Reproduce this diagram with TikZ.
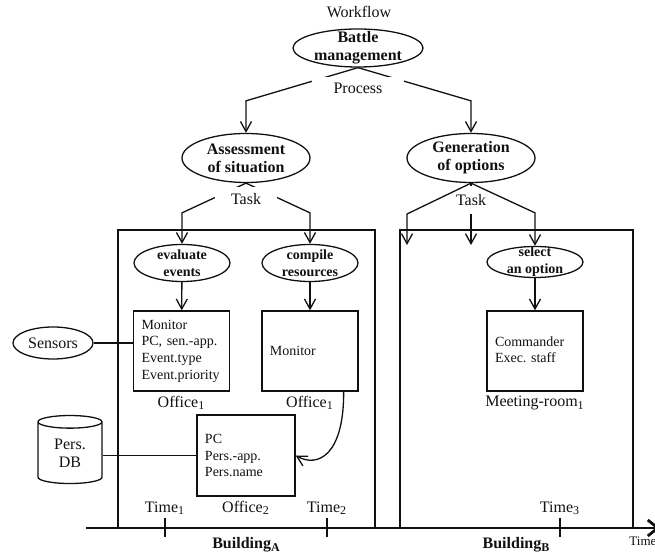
\documentclass[tikz,border=0pt]{standalone}
\usepackage{fontspec}
\setmainfont{Liberation Serif}
\usepackage{tikz}
\usetikzlibrary{arrows.meta,positioning,shapes.geometric}
\definecolor{wfInk}{HTML}{111111}
\tikzset{
  wf diagram/.style={x=0.5pt, y=-0.5pt, color=wfInk,
    font=\fontsize{8}{9}\selectfont},
  wf ellipse/.style={ellipse, draw=wfInk, line width=0.65pt, inner sep=0pt},
  wf title/.style={font=\fontsize{8}{9}\selectfont\bfseries, align=center, inner sep=0pt},
  wf small title/.style={font=\fontsize{7}{8.5}\selectfont\bfseries, align=center, inner sep=0pt},
  wf box/.style={draw=wfInk, line width=0.65pt, minimum height=40pt, text width=40pt,
    inner xsep=4pt, align=left, font=\fontsize{7}{8.35}\selectfont},
  wf frame/.style={draw=wfInk, line width=0.65pt, inner sep=0pt},
  wf arrow/.style={-{Straight Barb[length=5pt,width=5.5pt]}, draw=wfInk, line width=0.65pt},
  wf line/.style={draw=wfInk, line width=0.65pt},
  wf label/.style={font=\fontsize{8}{9}\selectfont, inner sep=1pt},
  wf cut/.style={wf label, fill=white, inner ysep=3pt},
  wf axis/.style={-{Straight Barb[length=5pt,width=8pt]}, draw=wfInk, line width=1.4pt}
}

\begin{document}
\begin{tikzpicture}[wf diagram]
\useasboundingbox (0,0) rectangle (655,555);
% workflow, process and tasks
\node[wf label] (workflow) at (359,12) {Workflow};
\node[wf ellipse, minimum width=65pt, minimum height=19pt,
  label={[wf title]center:Battle\\management}] (bm) at (358,48) {};
\node[wf ellipse, minimum width=64pt, minimum height=24.5pt,
  label={[wf title]center:Assessment\\of situation}] (assess) at (246,158) {};
\node[wf ellipse, minimum width=64pt, minimum height=24.5pt,
  label={[wf title]center:Generation\\of options}] (gen) at (471,158) {};

% buildings
\node[wf frame, minimum width=128.5pt, minimum height=149pt] (buildA) at (246.5,379) {};
\node[wf frame, minimum width=116.5pt, minimum height=149pt] (buildB) at (516.5,379) {};

\node[wf ellipse, minimum width=48pt, minimum height=18.5pt,
  label={[wf small title]center:evaluate\\events}] (eval) at (182,263) {};
\node[wf ellipse, minimum width=48pt, minimum height=18.5pt,
  label={[wf small title]center:compile\\resources}] (comp) at (310,263) {};
\node[wf ellipse, minimum width=48pt, minimum height=15.5pt,
  label={[wf small title]center:select\\an option}] (sel) at (535,262) {};

% rooms
\node[wf box] (mon1) at (181.5,351) {Monitor\\PC, sen.-app.\\Event.type\\Event.priority};
\node[wf box] (mon2) at (310,351) {Monitor};
\node[wf box, text depth=9.6pt] (cmdr) at (535,351) {Commander\\Exec.\ staff};
\node[wf box, minimum height=40.5pt, text width=41pt] (office2) at (246,455.5) {PC\\Pers.-app.\\Pers.name};
\node[wf label, below=1pt of mon1] (office1a) {Office\textsubscript{1}};
\node[wf label, below=1pt of mon2] (office1b) {Office\textsubscript{1}};
\node[wf label, below=1pt of cmdr] (meeting) {Meeting-room\textsubscript{1}};
\node[wf label] (office2lbl) at (246,508) {Office\textsubscript{2}};

% outside the buildings
\node[wf ellipse, minimum width=40pt, minimum height=16pt] (sensors) at (53,343) {Sensors};
\node[cylinder, shape border rotate=90, aspect=0.4, draw=wfInk, line width=0.65pt,
  minimum width=32pt, minimum height=34pt, align=center, inner sep=0pt] (persdb) at (70,453) {Pers.\\DB};

% connectors
\draw[wf arrow] (bm.south) -- ([yshift=16pt]assess.north) -- (assess.north);
\draw[wf arrow] (bm.south) -- ([yshift=16pt]gen.north) -- (gen.north);
\node[wf cut, inner xsep=11pt] (process) at (358,88) {Process};

\draw[wf arrow] (assess.south) -- ([yshift=15.5pt]eval.north) -- (eval.north);
\draw[wf arrow] (assess.south) -- ([yshift=15.5pt]comp.north) -- (comp.north);
\node[wf cut, inner xsep=8pt] (taskA) at (246,199) {Task};

\coordinate (dropL) at (407,245);
\coordinate (dropM) at (471,245);
\draw[wf arrow] (gen.south) -- (dropM);
\node[wf cut, inner xsep=1pt, inner ysep=4pt] (taskB) at (471,200) {Task};
\draw[wf arrow] (gen.south) -- ([yshift=15.5pt]dropL) -- (dropL);
\draw[wf arrow] (gen.south) -- ([yshift=16.5pt]sel.north) -- (sel.north);

\draw[wf arrow] (eval) -- (mon1);
\draw[wf arrow] (comp) -- (mon2);
\draw[wf arrow] (sel) -- (cmdr);
\draw[wf line] (sensors.east) -- (sensors.east -| mon1.west);
\draw[wf line] (persdb.east |- office2) -- (office2);
\draw[wf arrow] ([xshift=-7.5pt]mon2.south east) .. controls (344,455) and (318,468) .. (office2.east);

% time line
\coordinate (tStart) at (86,528);
\coordinate (tEnd) at (660,528);
\draw[wf axis] (tStart) -- (tEnd);
\foreach \tx/\tn in {165/1,327/2,560/3}{
  \node[wf label] (time\tn) at (\tx,508) {Time\textsubscript{\tn}};
  \draw[wf line] (\tx,518) -- (\tx,537);
}
\node[wf label, font=\fontsize{6.5}{7}\selectfont, anchor=west] (timeaxis) at (627,541) {Time};
\node[wf label, font=\fontsize{8}{9}\selectfont\bfseries] (bldA) at (246.5,545) {Building\textsubscript{A}};
\node[wf label, font=\fontsize{8}{9}\selectfont\bfseries] (bldB) at (516.5,545) {Building\textsubscript{B}};
\end{tikzpicture}
\end{document}
